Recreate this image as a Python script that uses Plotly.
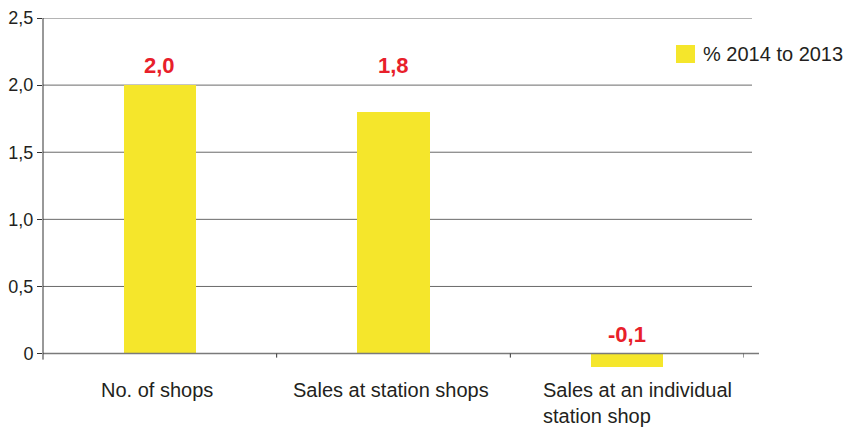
import math
import plotly.graph_objects as go

# Chart data
categories = ["No. of shops", "Sales at station shops", "Sales at an individual<br>station shop"]
values = [2.0, 1.8, -0.1]
series_name = "% 2014 to 2013"
y_ticks = [0, 0.5, 1.0, 1.5, 2.0, 2.5]
y_tick_labels = ["0", "0,5", "1,0", "1,5", "2,0", "2,5"]

YELLOW = "#F5E62B"
RED = "#E8202A"
TEXT = "#231F20"
GRID = "#6A6A6A"
AXIS = "#333333"
FONT = "Liberation Sans, Arial, sans-serif"

W, H = 850, 427
L, R, T, B = 43, 106, 18, 60
PW, PH = W - L - R, H - T - B
GRID_STEP = 0.5
# horizontal nudge of each category label (px)
LABEL_XSHIFT = [-3, -3, 10]


def px_x(px):
    return (px - L) / PW


def px_y(py):
    return (H - B - py) / PH


fig = go.Figure(
    go.Bar(
        x=categories,
        y=values,
        width=0.31,
        marker=dict(color=YELLOW, line_width=0),
        showlegend=False,
        hoverinfo="skip",
    )
)

shapes = []
# horizontal grid lines (slightly extending past the plot on the right)
for v in y_ticks:
    if v == 0:
        continue
    shapes.append(dict(type="line", xref="paper", yref="y", x0=0, x1=px_x(752),
                       y0=v, y1=v, line=dict(color=GRID, width=1), layer="below"))
# zero baseline
shapes.append(dict(type="line", xref="paper", yref="y", x0=0, x1=px_x(759),
                   y0=0, y1=0, line=dict(color="#7A7A7A", width=1.5), layer="above"))
# vertical axis line
shapes.append(dict(type="line", xref="paper", yref="y", x0=0, x1=0,
                   y0=-0.045, y1=2.5, line=dict(color=AXIS, width=1)))
# category separators on the baseline
for b in [0.5, 1.5, 2.5]:
    shapes.append(dict(type="line", xref="x", yref="y", x0=b, x1=b,
                       y0=0, y1=-0.03, line=dict(color=AXIS, width=1)))
# legend swatch
shapes.append(dict(type="rect", xref="paper", yref="paper",
                   x0=px_x(676), x1=px_x(695), y0=px_y(63), y1=px_y(45),
                   fillcolor=YELLOW, line_width=0))

annotations = []
for c, v in zip(categories, values):
    # value labels sit just above the next grid line at or above the bar
    label_level = max(math.ceil(v / GRID_STEP) * GRID_STEP, 0)
    annotations.append(dict(
        x=c, y=label_level, xref="x", yref="y",
        text=f"{v:.1f}".replace(".", ","),
        showarrow=False, yanchor="bottom", yshift=5,
        font=dict(family=FONT, size=22, color=RED, weight="bold"),
    ))
# category labels, left-aligned when wrapped
for c, dx in zip(categories, LABEL_XSHIFT):
    annotations.append(dict(
        x=c, y=px_y(377), xref="x", yref="paper",
        text=c, showarrow=False, xanchor="center", yanchor="top",
        align="left", xshift=dx,
        font=dict(family=FONT, size=20, color=TEXT),
    ))
annotations.append(dict(
    x=px_x(701), y=px_y(54), xref="paper", yref="paper",
    text=series_name, showarrow=False, xanchor="left", yanchor="middle",
    font=dict(family=FONT, size=20, color=TEXT),
))

fig.update_layout(
    width=W, height=H,
    margin=dict(l=L, r=R, t=T, b=B),
    paper_bgcolor="white", plot_bgcolor="white",
    font=dict(family=FONT, color=TEXT),
    shapes=shapes,
    annotations=annotations,
    bargap=0,
    xaxis=dict(
        type="category", categoryorder="array", categoryarray=categories,
        range=[-0.5, 2.5], showgrid=False, zeroline=False, showline=False,
        ticks="", showticklabels=False,
        automargin=False, fixedrange=True,
    ),
    yaxis=dict(
        range=[-0.1, 2.5], tickvals=y_ticks, ticktext=y_tick_labels,
        showgrid=False, zeroline=False, showline=False,
        ticks="outside", ticklen=5, tickcolor=AXIS, tickwidth=1,
        tickfont=dict(size=18, color=TEXT), automargin=False, fixedrange=True,
    ),
)

fig.write_html("out.html")
